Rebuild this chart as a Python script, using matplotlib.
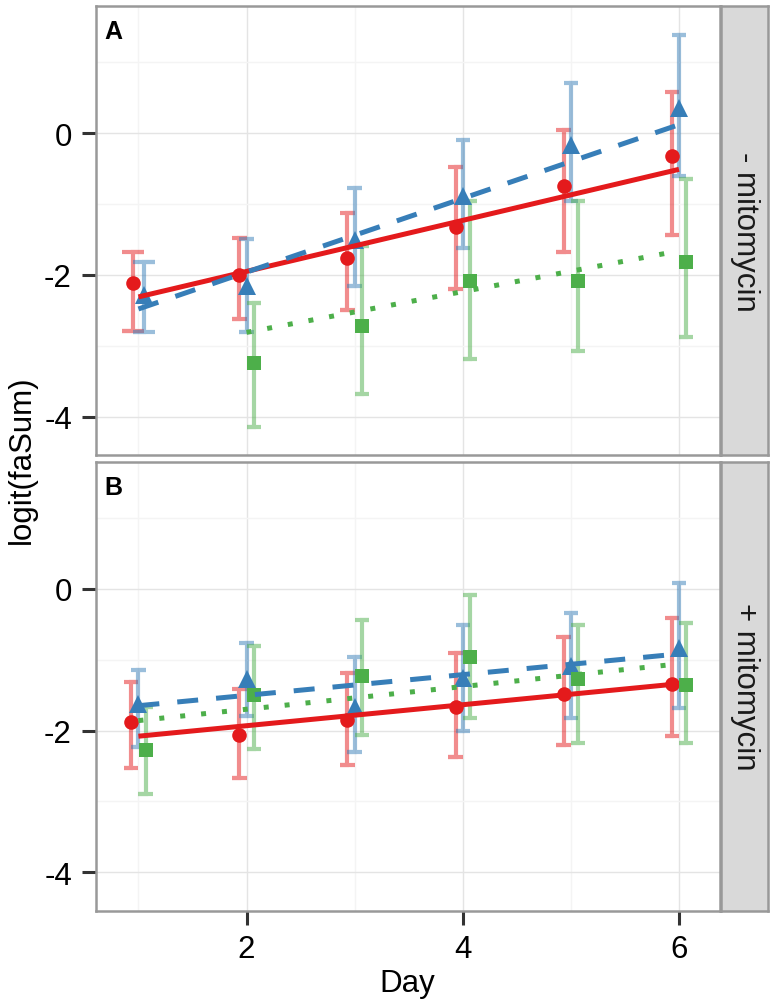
import numpy as np
import matplotlib
matplotlib.use('Agg')
import matplotlib.pyplot as plt

plt.rcParams['font.family'] = ['Liberation Sans', 'DejaVu Sans']
plt.rcParams['axes.unicode_minus'] = False

# ---- data ----
days = [1, 2, 3, 4, 5, 6]
panel_tags = ['A', 'B']
strip_labels = ['- mitomycin', '+ mitomycin']
y_ticks = [-4, -2, 0]
x_ticks = [2, 4, 6]
nan = np.nan

# panel A: - mitomycin
red_a = [-2.11, -2.00, -1.76, -1.32, -0.75, -0.32]
red_a_lo = [-2.79, -2.62, -2.50, -2.20, -1.68, -1.43]
red_a_hi = [-1.68, -1.48, -1.12, -0.48, 0.04, 0.58]
red_a_fit = [-2.31, -0.51]
blue_a = [-2.28, -2.16, -1.50, -0.89, -0.17, 0.35]
blue_a_lo = [-2.81, -2.81, -2.16, -1.62, -0.95, -0.61]
blue_a_hi = [-1.82, -1.49, -0.78, -0.09, 0.71, 1.38]
blue_a_fit = [-2.48, 0.12]
green_a = [nan, -3.24, -2.72, -2.08, -2.09, -1.82]
green_a_lo = [nan, -4.14, -3.68, -3.18, -3.07, -2.87]
green_a_hi = [nan, -2.40, -1.59, -0.95, -0.96, -0.64]
green_a_fit = [-2.81, -1.66]

# panel B: + mitomycin
red_b = [-1.88, -2.06, -1.85, -1.67, -1.48, -1.34]
red_b_lo = [-2.53, -2.67, -2.49, -2.38, -2.20, -2.08]
red_b_hi = [-1.32, -1.42, -1.19, -0.90, -0.68, -0.41]
red_b_fit = [-2.08, -1.34]
blue_b = [-1.62, -1.28, -1.67, -1.26, -1.09, -0.84]
blue_b_lo = [-2.23, -1.80, -2.30, -2.00, -1.83, -1.68]
blue_b_hi = [-1.15, -0.76, -0.97, -0.51, -0.34, 0.08]
blue_b_fit = [-1.65, -0.92]
green_b = [-2.28, -1.50, -1.23, -0.97, -1.27, -1.36]
green_b_lo = [-2.89, -2.26, -2.06, -1.83, -2.17, -2.17]
green_b_hi = [-1.67, -0.81, -0.44, -0.09, -0.51, -0.49]
green_b_fit = [-1.86, -1.06]

panels = [
    [(red_a, red_a_lo, red_a_hi, red_a_fit),
     (blue_a, blue_a_lo, blue_a_hi, blue_a_fit),
     (green_a, green_a_lo, green_a_hi, green_a_fit)],
    [(red_b, red_b_lo, red_b_hi, red_b_fit),
     (blue_b, blue_b_lo, blue_b_hi, blue_b_fit),
     (green_b, green_b_lo, green_b_hi, green_b_fit)],
]

# ---- style ----
colors = ['#E41A1C', '#377EB8', '#4DAF4A']
markers = ['o', '^', 's']
msizes = [10.5, 13, 10]
line_styles = ['-', (0, (4.2, 3.6)), (0, (1, 3.2))]
border = '#999999'
fs = 22.5

W, H = 778, 1003


def rect(x0, y0, x1, y1):
    return [x0 / W, 1 - y1 / H, (x1 - x0) / W, (y1 - y0) / H]


panel_boxes = [(95.5, 7.3, 719.5, 456), (95.5, 462.7, 719.5, 911.7)]

fig = plt.figure(figsize=(7.78, 10.03), dpi=100)

for p, series in enumerate(panels):
    x0, y0, x1, y1 = panel_boxes[p]
    ax = fig.add_axes(rect(x0, y0, x1, y1))
    ax.set_xlim(0.603, 6.375)
    ax.set_ylim(-4.54, 1.79)

    # grid
    ax.set_xticks(x_ticks)
    ax.set_yticks(y_ticks)
    ax.set_xticks([1, 3, 5], minor=True)
    ax.set_yticks([-3, -1, 1], minor=True)
    ax.grid(True, which='major', color='#E4E4E4', lw=1.0)
    ax.grid(True, which='minor', color='#F4F4F4', lw=1.0)
    ax.set_axisbelow(True)
    ax.tick_params(which='minor', length=0)
    ax.tick_params(which='major', length=10, width=2.2, color='#333333',
                   labelsize=fs, pad=7)
    ax.set_yticklabels([str(t) for t in y_ticks])
    if p == 0:
        ax.tick_params(axis='x', bottom=False, labelbottom=False)
    else:
        ax.set_xticklabels([str(t) for t in x_ticks])
        ax.set_xlabel('Day', fontsize=fs, labelpad=3)
    for s in ax.spines.values():
        s.set_color(border)
        s.set_linewidth(1.8)

    # dodge positions: how many series have a value on each day
    present = np.array([[not np.isnan(v) for v in s[0]] for s in series])
    n_here = present.sum(axis=0)

    for k, (vals, lo, hi, fit) in enumerate(series):
        xs, ys = [], []
        for d in range(len(days)):
            if np.isnan(vals[d]):
                continue
            rank = present[:k + 1, d].sum()
            n = n_here[d]
            x = days[d] + (rank - (n + 1) / 2) * 0.2 / n
            hw = 0.2 / n
            ax.plot([x - hw, x + hw, x, x, x - hw, x + hw],
                    [hi[d], hi[d], hi[d], lo[d], lo[d], lo[d]],
                    color=colors[k], alpha=0.5, lw=3.0,
                    solid_joinstyle='miter', solid_capstyle='butt', zorder=2)
            xs.append(x)
            ys.append(vals[d])
        ax.plot(xs, ys, ls='none', marker=markers[k], ms=msizes[k],
                color=colors[k], mew=0, zorder=3)
        first = [days[d] for d in range(len(days)) if not np.isnan(vals[d])][0]
        ax.plot([first, days[-1]], fit, color=colors[k], lw=3.6,
                ls=line_styles[k], dash_capstyle='butt',
                solid_capstyle='butt', zorder=4)

    ax.text(0.015, 0.929, panel_tags[p], transform=ax.transAxes,
            fontsize=18, fontweight='bold', ha='left', va='baseline')

    # facet strip on the right
    sx = fig.add_axes(rect(720.7, y0, 768.3, y1))
    sx.set_facecolor('#D9D9D9')
    sx.set_xticks([])
    sx.set_yticks([])
    for s in sx.spines.values():
        s.set_color(border)
        s.set_linewidth(1.8)
    sx.text(0.5, 0.5, strip_labels[p], rotation=-90, fontsize=fs,
            ha='center', va='center', color='#1A1A1A', transform=sx.transAxes)

fig.text(22 / W, 1 - 459.5 / H, 'logit(faSum)', rotation=90, fontsize=fs,
         ha='center', va='center')

fig.savefig('out.png', dpi=100)
